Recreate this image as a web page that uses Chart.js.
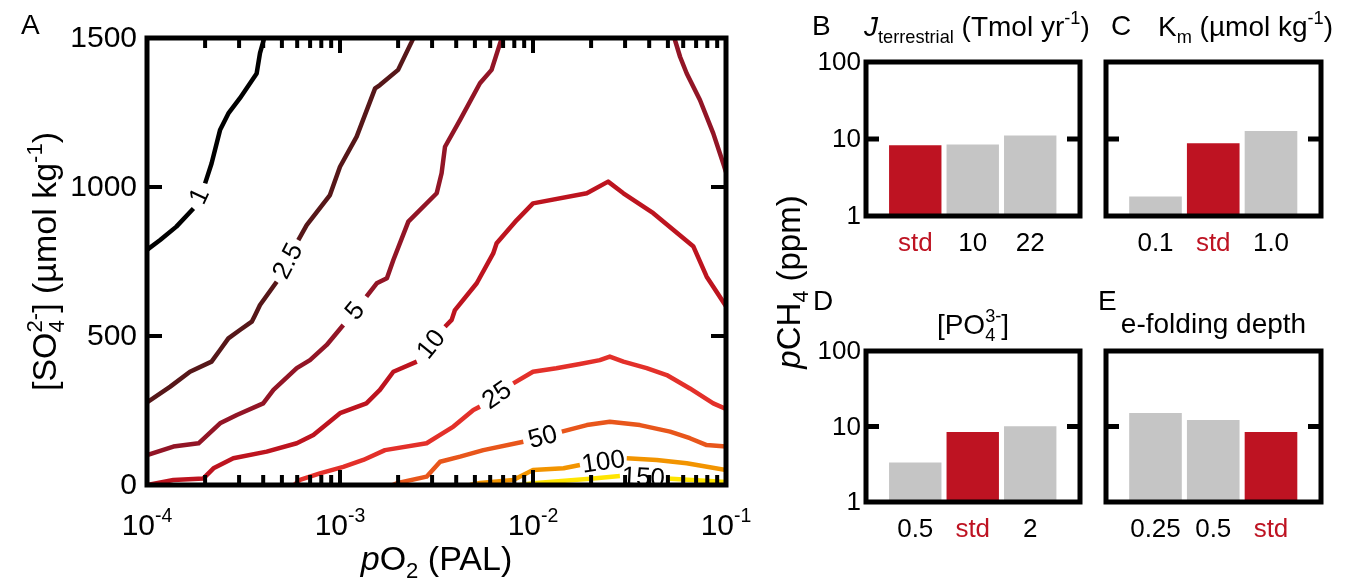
<!DOCTYPE html>
<html><head><meta charset="utf-8">
<script src="https://cdn.jsdelivr.net/npm/chart.js@4.4.1/dist/chart.umd.min.js"></script>
<style>
html,body{margin:0;padding:0;background:#fff;overflow:hidden;width:1357px;height:581px}
canvas{position:absolute;left:0;top:0}
</style></head>
<body>
<canvas id="cA" width="1357" height="581"></canvas>
<canvas id="cB" width="1357" height="581"></canvas>
<canvas id="cC" width="1357" height="581"></canvas>
<canvas id="cD" width="1357" height="581"></canvas>
<canvas id="cE" width="1357" height="581"></canvas>
<script>
// ---------------- DATA ----------------
const GAP = 'gap';      // contour label position (line gap)
const BREAK = null;     // separate branch of a contour

// Panel A contours: [pO2 (PAL), [SO4 2-] (umol/kg)]
const contourLevels = ['1', '2.5', '5', '10', '25', '50', '100', '150'];
const c1 = [[1e-4,789],[1.17e-4,822],[1.42e-4,867],[1.74e-4,928],GAP,[2.0e-4,1012],[2.16e-4,1079],[2.39e-4,1191],[2.64e-4,1247],[3.03e-4,1298],[3.7e-4,1381],[3.85e-4,1449],[4.05e-4,1500]];
const c2_5 = [[1e-4,277],[1.32e-4,330],[1.67e-4,380],[2.16e-4,414],[2.39e-4,453],[2.64e-4,492],[3.03e-4,520],[3.49e-4,548],[3.63e-4,570],[3.85e-4,604],[4.7e-4,682],GAP,[6.08e-4,822],[6.72e-4,872],[8.87e-4,973],[1.0e-3,1068],[1.22e-3,1169],[1.52e-3,1331],[1.61e-3,1342],[2.0e-3,1393],[2.35e-3,1487],[2.4e-3,1500]];
const c5 = [[1e-4,100],[1.37e-4,129],[1.85e-4,140],[2.39e-4,207],[2.92e-4,235],[4.0e-4,274],[4.52e-4,319],[5.97e-4,392],[6.99e-4,419],[8.53e-4,470],[1.04e-3,537],GAP,[1.37e-3,632],[1.55e-3,677],[1.75e-3,694],[1.89e-3,755],[2.26e-3,884],[3.17e-3,979],[3.36e-3,1046],[3.5e-3,1135],[4.19e-3,1225],[5.31e-3,1348],[6.1e-3,1393],[6.75e-3,1482],[6.9e-3,1500],BREAK,[0.054,1500],[0.0578,1437],[0.0626,1381],[0.0733,1292],[0.0859,1180],[0.0968,1079],[0.1,1050]];
const c10 = [[1e-4,0],[1.37e-4,17],[1.96e-4,22],[2.21e-4,56],[2.8e-4,90],[4.17e-4,112],[5.97e-4,140],[7.28e-4,168],[1.0e-3,241],[1.37e-3,274],[1.61e-3,319],[1.89e-3,380],[2.5e-3,414],GAP,[3.5e-3,531],[3.79e-3,554],[3.94e-3,587],[5.11e-3,677],[6.22e-3,777],[6.48e-3,811],[8.24e-3,889],[0.01,945],[0.019,979],[0.0245,1018],[0.0294,979],[0.042,912],[0.0678,800],[0.0794,699],[0.0859,665],[0.1,600]];
const c25 = [[5.8e-4,0],[6.2e-4,17],[7.87e-4,39],[1.04e-3,61],[1.32e-3,84],[1.71e-3,117],[2.81e-3,140],[3.3e-3,168],[3.87e-3,196],[4.91e-3,252],[5.31e-3,263],GAP,[7.9e-3,341],[0.01,380],[0.0132,392],[0.0175,406],[0.0222,419],[0.025,431],[0.0294,414],[0.0388,392],[0.0493,369],[0.065,324],[0.0859,274],[0.1,255]];
const c50 = [[1.88e-3,0],[1.97e-3,6],[2.81e-3,28],[3.3e-3,78],[4.19e-3,95],[5.53e-3,117],[8.91e-3,145],GAP,[0.0141,179],[0.019,201],[0.025,212],[0.0358,201],[0.0513,179],[0.065,157],[0.0794,134],[0.1,129]];
const c100 = [[4.72e-3,0],[5.31e-3,7],[7.9e-3,17],[0.01,50],[0.0144,56],[0.0175,67],GAP,[0.0306,90],[0.0438,84],[0.0626,73],[0.1,50]];
const c150 = [[8.57e-3,0],[0.01,6],[0.0205,22],[0.0282,30],GAP,[0.0493,22],[0.1,10]];
const contours = [c1, c2_5, c5, c10, c25, c50, c100, c150];

const xTicksA = [1e-4, 1e-3, 1e-2, 1e-1];
const xTickExp = ['-4', '-3', '-2', '-1'];
const yTicksA = [0, 500, 1000, 1500];

// Bar panels: pCH4 (ppm)
const catB = ['std', '10', '22'];     const valB = [8.2, 8.4, 11.0];
const catC = ['0.1', 'std', '1.0'];   const valC = [1.77, 8.75, 12.6];
const catD = ['0.5', 'std', '2'];     const valD = [3.3, 8.4, 9.95];
const catE = ['0.25', '0.5', 'std'];  const valE = [14.9, 12.1, 8.4];
const yTicksBar = [1, 10, 100];

// ---------------- STYLE ----------------
const FF = '"Liberation Sans", Arial, Helvetica, sans-serif';
const contourColors = ['#000000', '#561719', '#921526', '#bd141f', '#e3302a', '#e8561b', '#f29400', '#ffe500'];
const RED = '#be1322', GRAY = '#c5c5c5';
const W = 1357, H = 581;

function font(size, it) { return (it ? 'italic ' : '') + size + 'px ' + FF; }
function partsWidth(ctx, parts, size) {
  let w = 0;
  for (const p of parts) {
    if (p.stack) {
      ctx.font = font(size * 0.65);
      w += Math.max(ctx.measureText(p.stack.sub).width, ctx.measureText(p.stack.sup).width);
    } else {
      ctx.font = font((p.sub || p.sup) ? size * 0.65 : size, p.it);
      w += ctx.measureText(p.t).width;
    }
  }
  return w;
}
function drawRich(ctx, parts, x, y, size, align, rot, color) {
  ctx.save();
  ctx.translate(x, y);
  if (rot) ctx.rotate(rot);
  ctx.fillStyle = color || '#000';
  ctx.textAlign = 'left';
  ctx.textBaseline = 'alphabetic';
  const w = partsWidth(ctx, parts, size);
  let cx = align === 'center' ? -w / 2 : (align === 'right' ? -w : 0);
  for (const p of parts) {
    if (p.stack) {
      ctx.font = font(size * 0.65);
      ctx.fillText(p.stack.sub, cx, size * 0.24);
      ctx.fillText(p.stack.sup, cx, -size * 0.42);
      cx += Math.max(ctx.measureText(p.stack.sub).width, ctx.measureText(p.stack.sup).width);
    } else if (p.sub) {
      ctx.font = font(size * 0.65, p.it);
      ctx.fillText(p.t, cx, size * 0.24);
      cx += ctx.measureText(p.t).width;
    } else if (p.sup) {
      ctx.font = font(size * 0.65, p.it);
      ctx.fillText(p.t, cx, -size * 0.42);
      cx += ctx.measureText(p.t).width;
    } else {
      ctx.font = font(size, p.it);
      ctx.fillText(p.t, cx, 0);
      cx += ctx.measureText(p.t).width;
    }
  }
  ctx.restore();
}
function line(ctx, x1, y1, x2, y2) { ctx.beginPath(); ctx.moveTo(x1, y1); ctx.lineTo(x2, y2); ctx.stroke(); }

// ---------------- PANEL A ----------------
function toPoints(arr) {
  const out = []; let lastX = 1e-4;
  for (const p of arr) {
    if (p === GAP || p === BREAK) out.push({ x: lastX, y: null, gap: p === GAP });
    else { out.push({ x: p[0], y: p[1] }); lastX = p[0]; }
  }
  return out;
}
const areaA = { left: 147, top: 38, right: 726, bottom: 485 };

const panelAPlugin = {
  id: 'panelA',
  afterDatasetsDraw(chart) {
    const { ctx, chartArea: a, scales: { x, y } } = chart;
    // contour labels
    chart.data.datasets.forEach((ds, di) => {
      const meta = chart.getDatasetMeta(di);
      ds.data.forEach((pt, i) => {
        if (!pt.gap) return;
        const p0 = meta.data[i - 1], p1 = meta.data[i + 1];
        const mx = (p0.x + p1.x) / 2, my = (p0.y + p1.y) / 2;
        let ang = Math.atan2(p1.y - p0.y, p1.x - p0.x);
        if (ang > Math.PI / 2) ang -= Math.PI;
        if (ang < -Math.PI / 2) ang += Math.PI;
        ctx.save();
        ctx.translate(mx, my); ctx.rotate(ang);
        ctx.font = font(26); ctx.fillStyle = '#000';
        ctx.textAlign = 'center'; ctx.textBaseline = 'middle';
        ctx.fillText(ds.label, 0, 1);
        ctx.restore();
      });
    });
    // ticks
    ctx.save();
    ctx.strokeStyle = '#000'; ctx.lineWidth = 4; ctx.lineCap = 'butt';
    for (let n = -4; n <= -2; n++) {
      for (let k = 1; k <= 9; k++) {
        const v = k * Math.pow(10, n);
        const px = x.getPixelForValue(v);
        const len = k === 1 ? 15 : 10;
        line(ctx, px, a.top, px, a.top + len);
        line(ctx, px, a.bottom, px, a.bottom - len);
      }
    }
    for (const v of yTicksA) {
      const py = y.getPixelForValue(v);
      line(ctx, a.left, py, a.left + 15, py);
      line(ctx, a.right, py, a.right - 15, py);
    }
    // frame
    ctx.lineWidth = 5; ctx.lineJoin = 'miter';
    ctx.strokeRect(a.left, a.top, a.right - a.left, a.bottom - a.top);
    ctx.restore();

    // tick labels
    ctx.save();
    ctx.fillStyle = '#000';
    ctx.font = font(30); ctx.textAlign = 'right'; ctx.textBaseline = 'middle';
    for (const v of yTicksA) ctx.fillText(String(v), a.left - 10, y.getPixelForValue(v) + 1);
    ctx.restore();
    xTicksA.forEach((v, i) => {
      drawRich(ctx, [{ t: '10' }, { t: xTickExp[i], sup: true }], x.getPixelForValue(v), 535, 30, 'center');
    });
    // axis titles
    drawRich(ctx, [{ t: 'p', it: true }, { t: 'O' }, { t: '2', sub: true }, { t: ' (PAL)' }], (a.left + a.right) / 2, 570, 34, 'center');
    drawRich(ctx, [{ t: '[SO' }, { stack: { sub: '4', sup: '2-' } }, { t: '] (µmol kg' }, { t: '-1', sup: true }, { t: ')' }], 56, (a.top + a.bottom) / 2, 34, 'center', -Math.PI / 2);
    drawRich(ctx, [{ t: 'A' }], 21, 34, 28, 'left');
    // shared y title of bar panels
    drawRich(ctx, [{ t: 'p', it: true }, { t: 'CH' }, { t: '4', sub: true }, { t: ' (ppm)' }], 800, 282, 33, 'center', -Math.PI / 2);
  }
};

new Chart(document.getElementById('cA'), {
  type: 'line',
  data: {
    datasets: contours.map((c, i) => ({
      label: contourLevels[i],
      data: toPoints(c),
      borderColor: contourColors[i],
      borderWidth: 4.5,
      pointRadius: 0,
      tension: 0,
      spanGaps: false,
      borderJoinStyle: 'round',
      borderCapStyle: 'butt'
    }))
  },
  options: {
    animation: false, responsive: false, devicePixelRatio: 1,
    layout: { padding: { left: areaA.left, top: areaA.top, right: W - areaA.right, bottom: H - areaA.bottom } },
    scales: {
      x: { type: 'logarithmic', min: 1e-4, max: 0.1, display: false },
      y: { type: 'linear', min: 0, max: 1500, display: false }
    },
    plugins: { legend: { display: false }, tooltip: { enabled: false }, title: { display: false } }
  },
  plugins: [panelAPlugin]
});

// ---------------- BAR PANELS ----------------
function barPanel(id, cats, vals, frame, showY, letter, title) {
  const plugin = {
    id: 'bar' + id,
    afterDatasetsDraw(chart) {
      const { ctx, chartArea: a, scales: { x, y } } = chart;
      ctx.save();
      ctx.strokeStyle = '#000'; ctx.lineWidth = 5;
      const p10 = y.getPixelForValue(10);
      line(ctx, a.left, p10, a.left + 13, p10);
      line(ctx, a.right, p10, a.right - 13, p10);
      ctx.strokeRect(a.left, a.top, a.right - a.left, a.bottom - a.top);
      ctx.font = font(26); ctx.fillStyle = '#000';
      if (showY) {
        ctx.textAlign = 'right'; ctx.textBaseline = 'middle';
        for (const v of yTicksBar) ctx.fillText(String(v), a.left - 5, y.getPixelForValue(v) + 1);
      }
      ctx.textAlign = 'center'; ctx.textBaseline = 'alphabetic';
      cats.forEach((c, i) => {
        ctx.fillStyle = c === 'std' ? RED : '#000';
        ctx.fillText(c, x.getPixelForValue(i), a.bottom + 35);
      });
      ctx.restore();
      drawRich(ctx, [{ t: letter.t }], letter.x, letter.y, 28, 'left');
      drawRich(ctx, title.parts, title.x, title.y, 28, title.align);
    }
  };
  new Chart(document.getElementById(id), {
    type: 'bar',
    data: {
      datasets: [{
        data: vals.map((v, i) => ({ x: i, y: v })),
        backgroundColor: cats.map(c => c === 'std' ? RED : GRAY),
        borderWidth: 0,
        barThickness: 'flex',
        barPercentage: 0.9,
        categoryPercentage: 1.0
      }]
    },
    options: {
      animation: false, responsive: false, devicePixelRatio: 1,
      layout: { padding: { left: frame.left, top: frame.top, right: W - frame.right, bottom: H - frame.bottom } },
      scales: {
        x: { type: 'linear', min: -0.857, max: 2.866, offset: false, grid: { offset: false }, display: false },
        y: { type: 'logarithmic', min: 1, max: 100, display: false }
      },
      plugins: { legend: { display: false }, tooltip: { enabled: false } }
    },
    plugins: [plugin]
  });
}

const fB = { left: 866, right: 1080, top: 62, bottom: 216 };
const fC = { left: 1106, right: 1321, top: 62, bottom: 216 };
const fD = { left: 866, right: 1080, top: 351, bottom: 502 };
const fE = { left: 1106, right: 1321, top: 351, bottom: 502 };

barPanel('cB', catB, valB, fB, true, { t: 'B', x: 812, y: 35 },
  { parts: [{ t: 'J', it: true }, { t: 'terrestrial', sub: true }, { t: ' (Tmol yr' }, { t: '-1', sup: true }, { t: ')' }], x: 864, y: 36, align: 'left' });
barPanel('cC', catC, valC, fC, false, { t: 'C', x: 1111, y: 35 },
  { parts: [{ t: 'K' }, { t: 'm', sub: true }, { t: ' (µmol kg' }, { t: '-1', sup: true }, { t: ')' }], x: 1158, y: 36, align: 'left' });
barPanel('cD', catD, valD, fD, true, { t: 'D', x: 813, y: 310 },
  { parts: [{ t: '[PO' }, { stack: { sub: '4', sup: '3-' } }, { t: ']' }], x: (fD.left + fD.right) / 2, y: 334, align: 'center' });
barPanel('cE', catE, valE, fE, false, { t: 'E', x: 1098, y: 310 },
  { parts: [{ t: 'e-folding depth' }], x: (fE.left + fE.right) / 2, y: 333, align: 'center' });
</script>
</body></html>
